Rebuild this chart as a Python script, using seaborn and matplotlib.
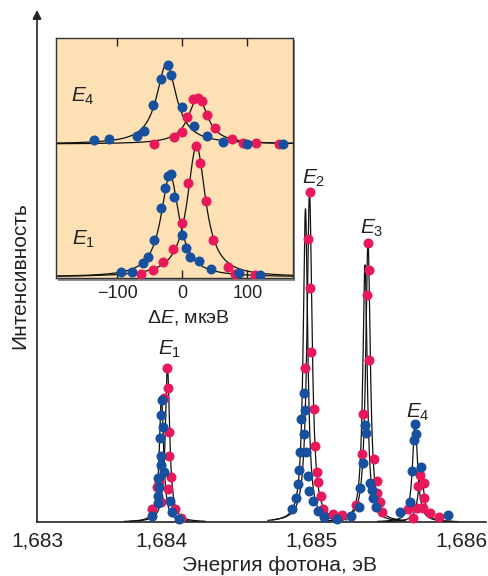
import matplotlib
matplotlib.use("Agg")
import matplotlib.pyplot as plt
import numpy as np
import seaborn as sns
from matplotlib.patches import Rectangle

# ---- main spectrum: photon energy (eV) and intensity (normalised to E2 peak)
red_e = [1.684040, 1.684049, 1.684020, 1.684055, 1.684055, 1.684065, 1.683971,
         1.683989, 1.684045, 1.684000, 1.683942, 1.684093, 1.684131,
         1.684991, 1.684978, 1.684993, 1.685000, 1.684956, 1.685016, 1.685025,
         1.685040, 1.685047, 1.685063, 1.685080, 1.685144, 1.685206,
         1.685375, 1.685384, 1.685369, 1.685386, 1.685346, 1.685337, 1.685419,
         1.685437, 1.685439, 1.685457, 1.685468, 1.685294,
         1.685723, 1.685748, 1.685712, 1.685751, 1.685701, 1.685743, 1.685645,
         1.685790, 1.685679, 1.685848]
red_i = [0.468, 0.405, 0.375, 0.274, 0.200, 0.136, 0.107,
         0.122, 0.099, 0.060, 0.038, 0.039, 0.013,
         1.000, 0.858, 0.709, 0.514, 0.468, 0.342, 0.230,
         0.151, 0.121, 0.080, 0.039, 0.023, 0.020,
         0.845, 0.764, 0.688, 0.491, 0.326, 0.205, 0.190,
         0.123, 0.088, 0.062, 0.031, 0.050,
         0.142, 0.118, 0.108, 0.073, 0.042, 0.043, 0.039,
         0.028, 0.013, 0.016]

blue_e = [1.684005, 1.683998, 1.684011, 1.683993, 1.684002, 1.684002, 1.684022,
          1.683982, 1.683985, 1.683978, 1.683978, 1.684060, 1.684071, 1.683942,
          1.684122,
          1.684953, 1.684958, 1.684931, 1.684953, 1.684927, 1.684965, 1.684918,
          1.684980, 1.684911, 1.684987, 1.684898, 1.685011, 1.684872, 1.685043,
          1.685086, 1.685169,
          1.685357, 1.685364, 1.685341, 1.685391, 1.685327, 1.685402, 1.685409,
          1.685432, 1.685317, 1.685262,
          1.685687, 1.685699, 1.685680, 1.685669, 1.685732, 1.685655, 1.685593,
          1.685908]
blue_i = [0.370, 0.324, 0.289, 0.254, 0.200, 0.173, 0.152,
          0.132, 0.105, 0.080, 0.057, 0.064, 0.031, 0.019,
          0.009,
          0.392, 0.339, 0.312, 0.266, 0.211, 0.211, 0.158,
          0.140, 0.114, 0.095, 0.074, 0.065, 0.039, 0.033,
          0.014, 0.008,
          0.294, 0.271, 0.178, 0.119, 0.102, 0.097, 0.072,
          0.044, 0.046, 0.019,
          0.298, 0.266, 0.248, 0.155, 0.167, 0.061, 0.029,
          0.021]

# Lorentzian fits of the four lines (centre eV, height, half width eV)
peak_names = ["$E_1$", "$E_2$", "$E_3$", "$E_4$"]
blue_fit_center = [1.684003, 1.684961, 1.685357, 1.685690]
blue_fit_height = [0.38, 0.95, 0.78, 0.30]
blue_fit_width = [1.7e-5, 1.8e-5, 1.75e-5, 2.0e-5]
red_fit_center = [1.684043, 1.684988, 1.685377, 1.685730]
red_fit_height = [0.47, 1.00, 0.85, 0.15]
red_fit_width = [1.75e-5, 2.0e-5, 1.85e-5, 2.3e-5]

x_tick_values = [1.683175, 1.684, 1.685, 1.686]
x_tick_labels = ["1,683", "1,684", "1,685", "1,686"]

# ---- inset: splitting in µeV, intensity in arbitrary units
in_e1_blue_de = [-18.2, -21.8, -26.9, -13.1, -33.1, -1.2, -43.8, 4.9, -52.6,
                 12.3, -60.0, 24.9, -94.3, -77.7, 43.8, 87.2, 119.2]
in_e1_blue_i = [103, 101, 89.3, 80.3, 68.7, 42, 37, 28.7, 20.5,
                19.8, 14.2, 15.7, 4.8, 5.3, 8.3, 3.7, 2]
in_e1_red_de = [20.3, 26.9, 8.9, 35.7, -0.3, 47.4, -15.1, -29.5, 70.5,
                -45.8, 80.8, -64.3, 111.5]
in_e1_red_i = [131.3, 113.7, 94.3, 76, 54.3, 37, 27.7, 14.7, 10.3,
               7, 3, 3, 2]
in_e4_blue_de = [-22.8, -33.5, -18.2, -44.9, -1.2, 18.2, -59.2, -69.5, 37.2,
                 -136.2, -112.6, 61.8, 99.7, 154.2]
in_e4_blue_i = [79, 64.7, 69, 39, 36.7, 18, 13.3, 8, 8,
                4, 4.7, 2.3, 0, 0]
in_e4_red_de = [16.6, 23.4, 30.5, 38.2, 7.4, 50, -0.3, -13.1, 76.6,
                -43.8, 93.5, 112.6, 148.9]
in_e4_red_i = [44.7, 46.3, 43.3, 29, 26.7, 16.3, 12.3, 6.7, 4.7,
               0, 1.3, 0.7, 0]
e4_offset = 133

# inset fits: (centre µeV, height, half width µeV)
in_fit_e1_blue = (-19.2, 102, 17.0)
in_fit_e1_red = (21.5, 131, 17.0)
in_fit_e4_blue = (-24.6, 80, 18.5)
in_fit_e4_red = (23.8, 47, 17.7)
in_ticks = [-100, 0, 100]
in_tick_labels = ["\u2212100", "0", "100"]

RED = "#e8195a"
BLUE = "#17509f"
INK = "#222222"
DOT = 52


def lorentz(x, x0, h, g):
    return h / (1 + ((x - x0) / g) ** 2)


sns.set_theme(style="white")
plt.rcParams["font.family"] = ["Liberation Sans", "DejaVu Sans"]
plt.rcParams["mathtext.fontset"] = "custom"
plt.rcParams["mathtext.rm"] = "Liberation Sans"
plt.rcParams["mathtext.it"] = "Liberation Sans:italic"

fig = plt.figure(figsize=(4.89, 5.76), dpi=100)
ax = fig.add_axes([37 / 489, 54 / 576, 449 / 489, 512 / 576])
ax.set_facecolor("white")

# fitted curves
span = 2.5e-4
for c, h, g in zip(blue_fit_center + red_fit_center,
                   blue_fit_height + red_fit_height,
                   blue_fit_width + red_fit_width):
    xs = np.linspace(c - span, c + span, 400)
    sns.lineplot(x=xs, y=lorentz(xs, c, h, g), color="#111111", lw=0.9, ax=ax,
                 estimator=None, sort=False, zorder=2)

sns.scatterplot(x=red_e, y=red_i, color=RED, s=DOT, linewidth=0, ax=ax,
                zorder=3, clip_on=False)
sns.scatterplot(x=blue_e, y=blue_i, color=BLUE, s=DOT, linewidth=0, ax=ax,
                zorder=3, clip_on=False)

ax.set_xlim(1.683175, 1.686162)
ax.set_ylim(0, 1.5515)
ax.set_xticks(x_tick_values)
ax.set_xticklabels(x_tick_labels)
ax.set_yticks([])
ax.tick_params(axis="x", direction="in", length=6, width=1, pad=7,
               labelsize=15, colors=INK)
for s in ["top", "right", "left"]:
    ax.spines[s].set_visible(False)
ax.spines["bottom"].set_color(INK)
ax.spines["bottom"].set_linewidth(1.2)
ax.annotate("", xy=(0, 1), xytext=(0, 0), xycoords="axes fraction",
            arrowprops=dict(arrowstyle="-|>", color=INK, lw=1.2,
                            mutation_scale=13, shrinkA=0, shrinkB=0))
ax.set_xlabel("")
ax.set_ylabel("")

# peak labels
label_x = [1.684057, 1.685017, 1.685402, 1.685710]
label_y = [0.506, 1.024, 0.873, 0.315]
for name, lx, ly in zip(peak_names, label_x, label_y):
    ax.text(lx, ly, name, ha="center", va="baseline", fontsize=15, color=INK)

fig.text(280 / 489, (576 - 571) / 576, "Энергия фотона, эВ", ha="center",
         va="baseline", fontsize=15, color=INK)
fig.text(20 / 489, (576 - 276) / 576, "Интенсивность", rotation=90,
         ha="center", va="center", fontsize=15, color=INK)

# ---- inset
shadow = Rectangle((58.5 / 489, (576 - 280.5) / 576), 237 / 489, 240.3 / 576,
                   transform=fig.transFigure, facecolor="#8c8c8c",
                   edgecolor="none", zorder=0.5)
fig.add_artist(shadow)
axin = fig.add_axes([56 / 489, (576 - 278.3) / 576, 237 / 489, 240.3 / 576],
                    zorder=1)
axin.set_facecolor("#fde0b4")

xs_in = np.linspace(-196, 172, 600)
for (c, h, g), off in [(in_fit_e1_blue, 0), (in_fit_e1_red, 0),
                       (in_fit_e4_blue, e4_offset), (in_fit_e4_red, e4_offset)]:
    sns.lineplot(x=xs_in, y=lorentz(xs_in, c, h, g) + off, color="#111111",
                 lw=0.9, ax=axin, estimator=None, sort=False, zorder=2)

sns.scatterplot(x=in_e1_red_de, y=in_e1_red_i, color=RED, s=DOT, linewidth=0,
                ax=axin, zorder=3)
sns.scatterplot(x=in_e1_blue_de, y=in_e1_blue_i, color=BLUE, s=DOT,
                linewidth=0, ax=axin, zorder=3)
sns.scatterplot(x=in_e4_red_de, y=np.array(in_e4_red_i) + e4_offset, color=RED,
                s=DOT, linewidth=0, ax=axin, zorder=3)
sns.scatterplot(x=in_e4_blue_de, y=np.array(in_e4_blue_i) + e4_offset,
                color=BLUE, s=DOT, linewidth=0, ax=axin, zorder=3)

axin.set_xlim(-194.6, 170)
axin.set_ylim(-1.3, 239)
axin.set_xticks(in_ticks)
axin.set_xticklabels(in_tick_labels)
axin.set_yticks([])
axin.tick_params(axis="x", direction="in", top=True, bottom=True, length=6,
                 width=1, pad=5, labelsize=13, colors=INK)
for s in axin.spines.values():
    s.set_color("#333333")
    s.set_linewidth(1.0)
axin.set_xlabel("")
axin.set_ylabel("")
axin.text(-152.6, 175.3, "$E_4$", ha="center", va="baseline", fontsize=15,
          color=INK)
axin.text(-152.6, 32, "$E_1$", ha="center", va="baseline", fontsize=15,
          color=INK)
axin.text(0.557, -0.185, "Δ$E$, мкэВ", transform=axin.transAxes,
          ha="center", va="baseline", fontsize=14, color=INK)

fig.savefig("out.png", dpi=100)
